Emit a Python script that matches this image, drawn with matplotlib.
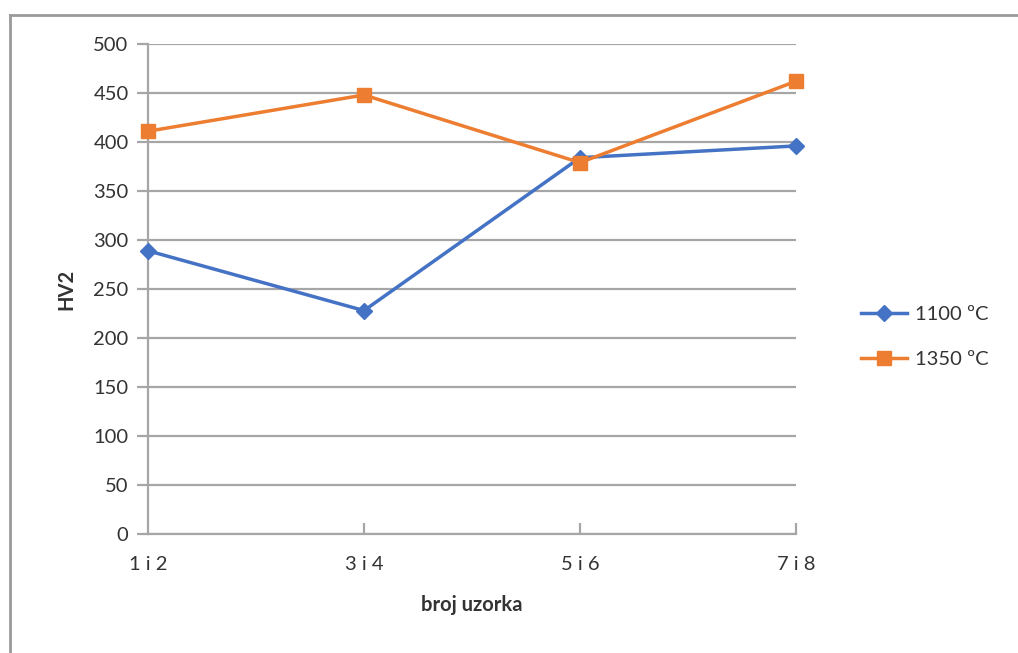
import matplotlib
matplotlib.use("Agg")
import matplotlib.pyplot as plt
from matplotlib.lines import Line2D

plt.rcParams['font.family'] = ['Lato', 'DejaVu Sans']

categories = ["1 i 2", "3 i 4", "5 i 6", "7 i 8"]
hv_1100 = [289, 228, 384, 396]
hv_1350 = [411, 448, 379, 462]
y_ticks = [0, 50, 100, 150, 200, 250, 300, 350, 400, 450, 500]

blue = "#4472C4"
orange = "#ED7D31"
grid_gray = "#A6A6A6"
text_col = "#333333"

fig = plt.figure(figsize=(10.18, 6.53), dpi=100)
ax = fig.add_axes([0.1454, 0.1822, 0.7819 - 0.1454, 0.9326 - 0.1822])

x = list(range(len(categories)))
ax.plot(x, hv_1100, color=blue, lw=2.5, marker="D", ms=8, label="1100 ºC",
        zorder=3, clip_on=False)
ax.plot(x, hv_1350, color=orange, lw=2.5, marker="s", ms=10, label="1350 ºC",
        zorder=4, clip_on=False)

ax.set_xlim(0, len(categories) - 1)
ax.set_ylim(0, 500)
ax.set_yticks(y_ticks)
ax.set_xticks(x)
ax.set_xticklabels(categories)
ax.yaxis.grid(True, color=grid_gray, lw=1.6)
ax.set_axisbelow(True)

for s in ["top", "right"]:
    ax.spines[s].set_visible(False)
for s in ["left", "bottom"]:
    ax.spines[s].set_color(grid_gray)
    ax.spines[s].set_linewidth(1.6)

ax.tick_params(axis="y", direction="out", length=8, width=1.6, color=grid_gray,
               labelsize=14.5, labelcolor=text_col, pad=6)
ax.tick_params(axis="x", direction="in", length=8, width=1.6, color=grid_gray,
               labelsize=14.5, labelcolor=text_col, pad=16)
ax.xaxis.get_majorticklines()[0].set_visible(False)

ax.set_xlabel("broj uzorka", fontsize=14.5, fontweight="bold", color=text_col, labelpad=16)
ax.set_ylabel("HV2", fontsize=14.5, fontweight="bold", color=text_col, labelpad=12)

fig.legend(loc="center left", bbox_to_anchor=(0.828, 0.484), frameon=False,
           fontsize=14.5, labelspacing=1.4, handlelength=2.3, handletextpad=0.4,
           labelcolor=text_col)

# frame lines along the top and left edges
fig.add_artist(Line2D([10 / 1018, 10 / 1018], [0, 1 - 15 / 653], transform=fig.transFigure,
                      color="#9A9A9A", lw=2))
fig.add_artist(Line2D([10 / 1018, 1], [1 - 15 / 653, 1 - 15 / 653], transform=fig.transFigure,
                      color="#9A9A9A", lw=2))

fig.savefig("out.png", dpi=100)
